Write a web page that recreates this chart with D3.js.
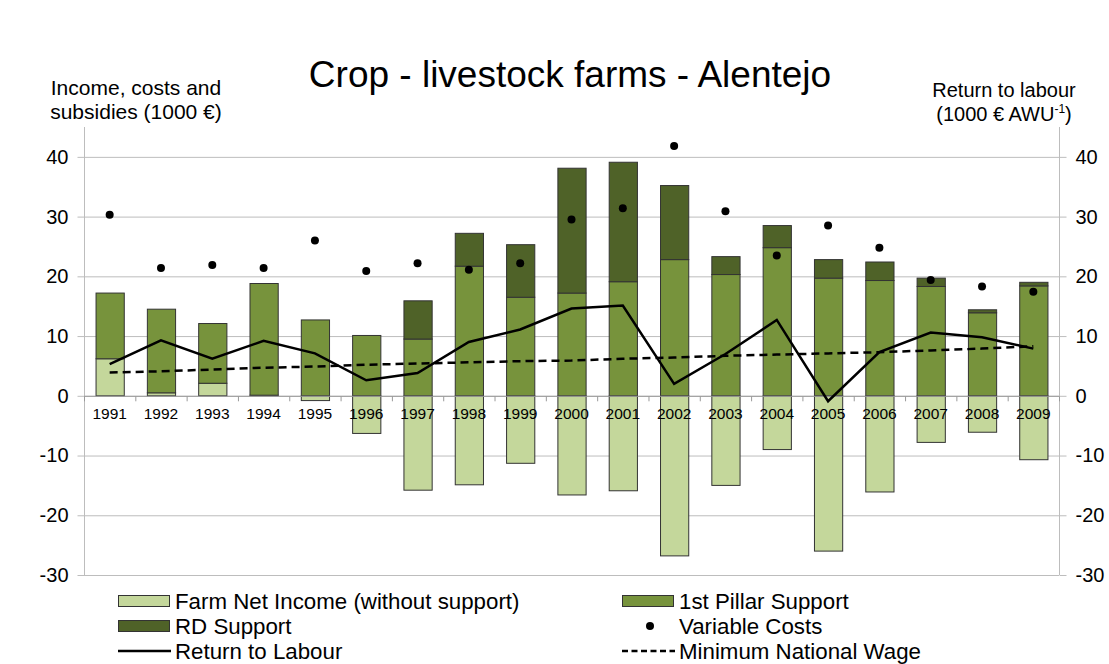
<!DOCTYPE html>
<html>
<head>
<meta charset="utf-8">
<script src="https://cdn.jsdelivr.net/npm/d3@7"></script>
<style>
  html, body { margin: 0; padding: 0; background: #fff; }
  svg { display: block; }
  text { font-family: "Liberation Sans", Arial, sans-serif; fill: #000; }
</style>
</head>
<body>
<svg id="chart" width="1109" height="664"></svg>
<script>
// Years on the category axis
const years = ["1991","1992","1993","1994","1995","1996","1997","1998","1999","2000",
               "2001","2002","2003","2004","2005","2006","2007","2008","2009"];

// Stacked columns (1000 €)
const farmNetIncome = [6.2, 0.5, 2.1, 0.1, -0.8, -6.3, -15.8, -14.9, -11.3, -16.6,
                       -15.9, -26.8, -15.0, -9.0, -26.0, -16.1, -7.8, -6.1, -10.7];
const pillarSupport = [11.0, 14.0, 10.0, 18.7, 12.7, 10.1, 9.5, 21.7, 16.5, 17.2,
                       19.1, 22.8, 20.3, 24.8, 19.7, 19.3, 18.3, 13.9, 18.4];
const rdSupport     = [0, 0, 0, 0, 0, 0, 6.4, 5.5, 8.8, 20.9,
                       20.0, 12.4, 3.0, 3.7, 3.1, 3.1, 1.4, 0.5, 0.6];

// Dots (1000 €)
const variableCosts = [30.3, 21.4, 21.9, 21.4, 26.0, 20.9, 22.2, 21.1, 22.2, 29.5,
                       31.4, 41.8, 30.9, 23.5, 28.5, 24.8, 19.4, 18.3, 17.4];

// Lines on the right axis (1000 € per AWU)
const returnToLabour  = [5.3, 9.3, 6.2, 9.2, 7.1, 2.6, 3.8, 9.0, 11.1, 14.6,
                         15.1, 2.0, 7.0, 12.7, -0.9, 7.3, 10.6, 9.8, 7.9];
const minNationalWage = [3.9, 4.1, 4.4, 4.7, 4.9, 5.2, 5.4, 5.6, 5.8, 5.9,
                         6.2, 6.4, 6.7, 6.9, 7.1, 7.3, 7.6, 7.9, 8.3];

const yTicks = [-30, -20, -10, 0, 10, 20, 30, 40];

const colors = { fni: "#c4d79b", pillar: "#77933c", rd: "#4f6228" };

const svg = d3.select("#chart");
const plotLeft = 84, plotRight = 1059, plotTop = 127, plotBottom = 575;

const x = d3.scaleBand().domain(years).range([plotLeft, plotRight])
  .paddingInner(0.45).paddingOuter(0.225);
const y = d3.scaleLinear().domain([-30, 45]).range([plotBottom, plotTop]);
const yR = d3.scaleLinear().domain([-30, 45]).range([plotBottom, plotTop]);

// Horizontal gridlines
svg.append("g").selectAll("line").data(yTicks).join("line")
  .attr("x1", plotLeft).attr("x2", plotRight)
  .attr("y1", d => y(d) + 0.5).attr("y2", d => y(d) + 0.5)
  .attr("stroke", "#bdbdbd").attr("stroke-width", 1);

// Value axes on both sides, plain hyphen for negatives
const fmt = d => String(d);
const axL = svg.append("g").attr("transform", `translate(${plotLeft + 0.5},0)`)
  .call(d3.axisLeft(y).tickValues(yTicks).tickFormat(fmt).tickSize(7).tickPadding(9));
const axR = svg.append("g").attr("transform", `translate(${plotRight + 0.5},0)`)
  .call(d3.axisRight(yR).tickValues(yTicks).tickFormat(fmt).tickSize(7).tickPadding(9));
[axL, axR].forEach(ax => {
  ax.select(".domain").attr("stroke", "#bdbdbd").attr("d", `M0,${plotTop}V${plotBottom}`);
  ax.selectAll(".tick line").attr("stroke", "#bdbdbd");
  ax.selectAll(".tick text").attr("font-size", 20).attr("font-family", "Liberation Sans, Arial, sans-serif");
});

// Stacked bars
const table = years.map((yr, i) => ({
  year: yr, fni: farmNetIncome[i], pillar: pillarSupport[i], rd: rdSupport[i]
}));
const series = d3.stack().keys(["fni", "pillar", "rd"])
  .offset(d3.stackOffsetDiverging)(table);

svg.append("g").selectAll("g").data(series).join("g")
  .attr("fill", s => colors[s.key])
  .selectAll("rect").data(s => s.filter(d => d[1] !== d[0])).join("rect")
  .attr("x", d => x(d.data.year) + 0.5)
  .attr("width", x.bandwidth())
  .attr("y", d => y(Math.max(d[0], d[1])))
  .attr("height", d => Math.abs(y(d[0]) - y(d[1])))
  .attr("stroke", "#333").attr("stroke-width", 1);

// Category axis at zero
const axX = svg.append("g").attr("transform", `translate(0,${y(0) + 0.5})`)
  .call(d3.axisBottom(x).tickSize(0).tickPadding(12));
axX.select(".domain").attr("stroke", "#9a9a9a").attr("d", `M${plotLeft},0H${plotRight}`);
axX.selectAll(".tick text").attr("font-size", 15.5).attr("font-family", "Liberation Sans, Arial, sans-serif").attr("fill", "#111");
axX.append("g").selectAll("line").data(d3.range(years.length + 1)).join("line")
  .attr("x1", i => plotLeft + i * x.step() + 0.5).attr("x2", i => plotLeft + i * x.step() + 0.5)
  .attr("y1", 0).attr("y2", 5).attr("stroke", "#9a9a9a");

// Variable costs
svg.append("g").selectAll("circle").data(variableCosts).join("circle")
  .attr("cx", (d, i) => x(years[i]) + x.bandwidth() / 2)
  .attr("cy", d => y(d)).attr("r", 4).attr("fill", "#000");

// Lines
const line = d3.line()
  .x((d, i) => x(years[i]) + x.bandwidth() / 2)
  .y(d => yR(d));
svg.append("path").datum(minNationalWage).attr("d", line)
  .attr("fill", "none").attr("stroke", "#000").attr("stroke-width", 2.5)
  .attr("stroke-dasharray", "8,5");
svg.append("path").datum(returnToLabour).attr("d", line)
  .attr("fill", "none").attr("stroke", "#000").attr("stroke-width", 2.5)
  .attr("stroke-linejoin", "miter");

// Titles
svg.append("text").attr("x", 570).attr("y", 87).attr("text-anchor", "middle")
  .attr("font-size", 37).text("Crop - livestock farms - Alentejo");

const ltitle = svg.append("text").attr("text-anchor", "middle").attr("font-size", 21);
ltitle.append("tspan").attr("x", 136).attr("y", 95).text("Income, costs and");
ltitle.append("tspan").attr("x", 136).attr("y", 119).text("subsidies (1000 €)");

const rtitle = svg.append("text").attr("text-anchor", "middle").attr("font-size", 20);
rtitle.append("tspan").attr("x", 1004).attr("y", 97).text("Return to labour");
const r2 = rtitle.append("tspan").attr("x", 1004).attr("y", 121);
r2.append("tspan").text("(1000 € AWU");
r2.append("tspan").attr("font-size", 12).attr("dy", -8).text("-1");
r2.append("tspan").attr("dy", 8).text(")");

// Legend
const legend = svg.append("g");
const legItems = [
  { label: "Farm Net Income (without support)", type: "rect", color: colors.fni, x: 118, y: 601 },
  { label: "1st Pillar Support", type: "rect", color: colors.pillar, x: 622, y: 601 },
  { label: "RD Support", type: "rect", color: colors.rd, x: 118, y: 626 },
  { label: "Variable Costs", type: "dot", x: 622, y: 626 },
  { label: "Return to Labour", type: "line", x: 118, y: 651 },
  { label: "Minimum National Wage", type: "dash", x: 622, y: 651 }
];
legItems.forEach(it => {
  const g = legend.append("g").attr("transform", `translate(${it.x},${it.y})`);
  if (it.type === "rect") {
    g.append("rect").attr("x", 0.5).attr("y", -5.5).attr("width", 51).attr("height", 11)
      .attr("fill", it.color).attr("stroke", "#333").attr("stroke-width", 1);
  } else if (it.type === "dot") {
    g.append("circle").attr("cx", 28).attr("cy", 0).attr("r", 4).attr("fill", "#000");
  } else {
    g.append("line").attr("x1", 0).attr("x2", 53).attr("y1", 0).attr("y2", 0)
      .attr("stroke", "#000").attr("stroke-width", 2.5)
      .attr("stroke-dasharray", it.type === "dash" ? "6,3.5" : null);
  }
  // condensed label text
  g.append("text").attr("transform", "translate(57,0) scale(0.97,1)")
    .attr("dy", "0.36em").attr("font-size", 23).text(it.label);
});
</script>
</body>
</html>
